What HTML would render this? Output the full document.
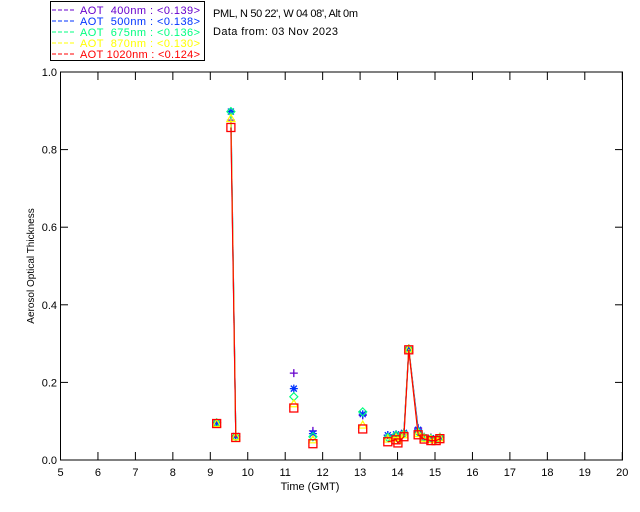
<!DOCTYPE html>
<html><head><meta charset="utf-8"><style>
body{margin:0;background:#fff;}
svg{display:block;font-family:"Liberation Sans",sans-serif;}
.pre{white-space:pre;}
</style></head><body>
<svg id="chart" width="640" height="512" viewBox="0 0 640 512" xmlns="http://www.w3.org/2000/svg">
<g>
<rect x="50.5" y="1.5" width="154" height="59" fill="#fff" stroke="#000"/>
<g font-size="11">
<line x1="52" y1="10" x2="74" y2="10" stroke="#6600cc" stroke-dasharray="4,2"/><text class="pre" x="80" y="14" textLength="120" fill="#6600cc">AOT  400nm : &lt;0.139&gt;</text>
<line x1="52" y1="21" x2="74" y2="21" stroke="#0033ff" stroke-dasharray="4,2"/><text class="pre" x="80" y="25" textLength="120" fill="#0033ff">AOT  500nm : &lt;0.138&gt;</text>
<line x1="52" y1="32" x2="74" y2="32" stroke="#00ff80" stroke-dasharray="4,2"/><text class="pre" x="80" y="36" textLength="120" fill="#00ff80">AOT  675nm : &lt;0.136&gt;</text>
<line x1="52" y1="43" x2="74" y2="43" stroke="#ffff00" stroke-dasharray="4,2"/><text class="pre" x="80" y="47" textLength="120" fill="#ffff00">AOT  870nm : &lt;0.130&gt;</text>
<line x1="52" y1="54" x2="74" y2="54" stroke="#ff0000" stroke-dasharray="4,2"/><text class="pre" x="80" y="58" textLength="120" fill="#ff0000">AOT 1020nm : &lt;0.124&gt;</text>
</g></g>
<text x="213" y="17" font-size="11" textLength="145">PML, N 50 22', W 04 08', Alt 0m</text>
<text x="213" y="35" font-size="11" textLength="125">Data from: 03 Nov 2023</text>
<rect x="60.5" y="72" width="562" height="388" fill="none" stroke="#000"/>
<g id="axes" font-size="11"></g>
<text x="310" y="490" font-size="11" text-anchor="middle">Time (GMT)</text>
<text transform="translate(34,266) rotate(-90)" font-size="10" text-anchor="middle">Aerosol Optical Thickness</text>
<g id="marks"></g>
</svg>
<script>
const xTicks=[5,6,7,8,9,10,11,12,13,14,15,16,17,18,19,20];
const yTicks=["0.0","0.2","0.4","0.6","0.8","1.0"];
const times=[9.17,9.55,9.68,11.23,11.74,13.07,13.74,13.96,14.01,14.17,14.30,14.55,14.71,14.89,15.03,15.13];
const aot400=[0.095,0.876,0.062,0.224,0.075,0.115,0.064,0.066,0.060,0.072,0.288,0.082,0.060,0.058,0.055,0.060];
const aot500=[0.096,0.898,0.062,0.184,0.068,0.118,0.064,0.066,0.058,0.070,0.284,0.078,0.058,0.056,0.055,0.058];
const aot675=[0.096,0.898,0.060,0.163,0.060,0.124,0.058,0.064,0.055,0.068,0.286,0.072,0.058,0.055,0.053,0.058];
const aot870=[0.094,0.880,0.060,0.145,0.052,0.090,0.054,0.058,0.050,0.065,0.286,0.068,0.056,0.053,0.052,0.057];
const aot1020=[0.094,0.857,0.058,0.134,0.042,0.080,0.047,0.052,0.044,0.060,0.284,0.065,0.054,0.050,0.050,0.055];
const NS="http://www.w3.org/2000/svg";
const X=t=>60.5+(t-5)*37.45;
const Y=v=>460-v*388;
function mk(tag,attrs,parent){const e=document.createElementNS(NS,tag);for(const k in attrs)e.setAttribute(k,attrs[k]);parent.appendChild(e);return e;}
const axes=document.getElementById('axes');
xTicks.forEach(t=>{
  const l=mk('line',{x1:X(t),x2:X(t),y1:460,y2:452,stroke:'#000'},axes);
  
  
  const l2=mk('line',{x1:X(t),x2:X(t),y1:72,y2:80,stroke:'#000'},axes);
  
  
  const tx=mk('text',{x:X(t),y:476,'text-anchor':'middle'},axes);tx.textContent=t;
  
  
});
yTicks.forEach(s=>{
  const v=parseFloat(s);
  const l=mk('line',{x1:60.5,x2:68,y1:Y(v),y2:Y(v),stroke:'#000'},axes);
  
  
  const l2=mk('line',{x1:615,x2:622.5,y1:Y(v),y2:Y(v),stroke:'#000'},axes);
  
  
  const tx=mk('text',{x:57,y:Y(v)+4,'text-anchor':'end'},axes);tx.textContent=s;
  
  
});
const marks=document.getElementById('marks');
const series=[["aot-400",aot400,"#6600cc","plus"],["aot-500",aot500,"#0033ff","star"],["aot-675",aot675,"#00ff80","diamond"],["aot-870",aot870,"#ffff00","tri"],["aot-1020",aot1020,"#ff0000","square"]];
series.forEach(([name,vals,col,shape])=>{
  const g=mk('g',{},marks);
  
  
  let segs=[];let cur=[];
  times.forEach((t,i)=>{
    if(i>0&&t-times[i-1]>0.3){segs.push(cur);cur=[];}
    cur.push(X(t).toFixed(1)+','+Y(vals[i]).toFixed(1));
  });
  segs.push(cur);
  segs.forEach(s=>{if(s.length>1){const p=mk('polyline',{points:s.join(' '),fill:'none',stroke:col,'stroke-width':1.2},g);
    
    }});
  times.forEach((t,i)=>{
    const x=X(t),y=Y(vals[i]);let e;
    if(shape==='plus')e=mk('path',{d:`M${x-4},${y}h8M${x},${y-4}v8`,stroke:col,'stroke-width':1.3,fill:'none'},g);
    else if(shape==='star')e=mk('path',{d:`M${x-4},${y}h8M${x},${y-4}v8M${x-3},${y-3}l6,6M${x-3},${y+3}l6,-6`,stroke:col,'stroke-width':1.3,fill:'none'},g);
    else if(shape==='diamond')e=mk('path',{d:`M${x},${y-4}L${x+4},${y}L${x},${y+4}L${x-4},${y}Z`,stroke:col,'stroke-width':1.2,fill:'none'},g);
    else if(shape==='tri')e=mk('path',{d:`M${x},${y-4}L${x+4},${y+3}L${x-4},${y+3}Z`,stroke:col,'stroke-width':1.2,fill:'none'},g);
    else e=mk('rect',{x:x-4,y:y-4,width:8,height:8,stroke:col,'stroke-width':1.3,fill:'none'},g);
    
    
  });
});
</script>
</body></html>
